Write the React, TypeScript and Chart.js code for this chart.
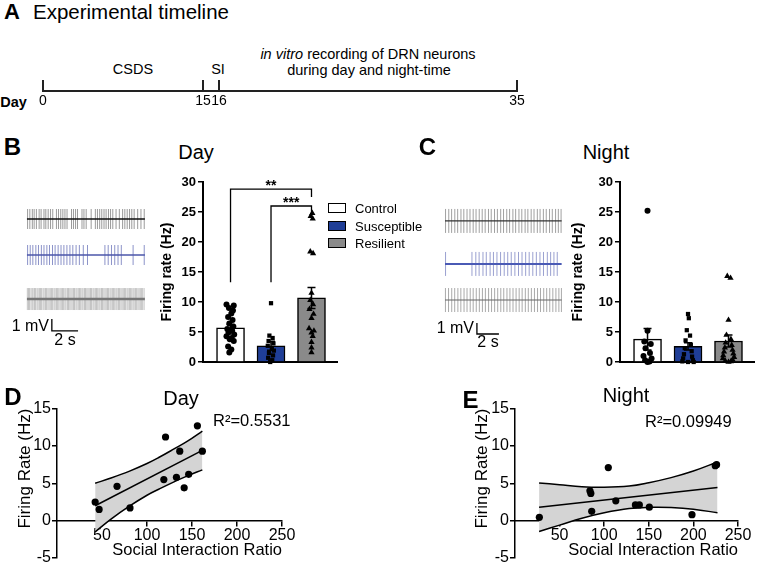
import React, { useEffect, useRef } from 'react';
import { Chart, registerables, LinearScale } from 'chart.js';
Chart.register(...registerables);

const FONT = '"Liberation Sans", Arial, Helvetica, sans-serif';
Chart.defaults.font.family = FONT;
Chart.defaults.color = '#000';

// ---------------- DATA ----------------
// Panel A timeline (days)
const timelineDays = [0, 15, 16, 35];

// Panel B/C groups
const groups = ['Control', 'Susceptible', 'Resilient'];
const groupColors = ['#ffffff', '#1f3e97', '#8a8a8a'];

// Day firing rates (Hz)
const dayMeans = [5.68, 2.7, 10.68];
const daySems = [0.55, 0.75, 1.75];
const dayControl = [9.6, 9.4, 9.0, 8.6, 8.1, 7.5, 7.0, 6.4, 5.9, 5.5, 5.2, 4.9, 4.6, 4.3, 4.0, 3.8, 3.5, 2.6, 2.1, 1.6];
const daySusceptible = [9.8, 4.4, 4.0, 3.5, 3.1, 2.7, 2.3, 1.9, 1.5, 1.1, 0.7, 0.3, 0.0];
const dayResilient = [24.8, 24.3, 23.9, 18.4, 18.1, 11.5, 10.3, 9.6, 8.8, 8.0, 7.3, 5.6, 5.2, 4.9, 4.3, 3.3, 2.4, 1.6];
const dayControlJitter = [-0.1, 0.08, -0.04, 0.06, 0.02, -0.06, 0.05, -0.03, 0.07, -0.08, 0.04, -0.05, 0.09, -0.1, 0.03, -0.02, 0.08, -0.06, 0.02, -0.03];
const daySusceptibleJitter = [0, -0.04, 0.04, -0.06, 0.06, -0.08, 0.02, 0.07, -0.05, 0.05, -0.07, 0.03, -0.02];
const dayResilientJitter = [0.02, -0.02, 0.03, -0.03, 0.04, 0, -0.03, 0.04, -0.05, 0.05, 0, -0.06, 0.06, 0, 0.03, 0, 0, 0];
const daySignificance = [
  { from: 1, to: 3, top: 28.8, leftEnd: 13.3, rightEnd: 27.5, label: '**' },
  { from: 2, to: 3, top: 26.0, leftEnd: 13.3, rightEnd: 24.8, label: '***' },
];

// Night firing rates (Hz)
const nightMeans = [3.8, 2.6, 3.5];
const nightSems = [1.8, 0.6, 1.0];
const nightControl = [25.2, 5.2, 3.4, 3.0, 2.3, 1.5, 1.0, 0.6, 0.3, 0.1, 0.0];
const nightSusceptible = [8.0, 7.3, 5.3, 4.4, 3.6, 2.9, 2.3, 1.8, 1.3, 0.9, 0.6, 0.3, 0.1, 0.0, 0.0];
const nightResilient = [14.3, 14.0, 7.0, 4.5, 3.8, 3.2, 2.8, 2.4, 2.0, 1.7, 1.4, 1.1, 0.8, 0.6, 0.4, 0.2, 0.1, 0.0];
const nightControlJitter = [0, 0, -0.08, 0.08, -0.05, 0.06, -0.1, 0.1, -0.06, 0.05, 0];
const nightSusceptibleJitter = [0, 0.02, -0.03, 0.05, -0.06, 0.07, -0.08, 0.09, -0.1, 0.1, -0.12, 0.12, -0.14, 0.14, 0];
const nightResilientJitter = [-0.03, 0.05, 0, -0.05, 0.06, -0.07, 0.08, -0.09, 0.1, -0.11, 0.12, -0.13, 0.14, -0.14, 0.1, -0.08, 0.06, 0];

// Example traces: spike times (s)
const dayTraceDuration = 9.0;
const dayControlSpikes = [0.05, 0.22, 0.41, 0.55, 0.72, 0.93, 1.08, 1.3, 1.44, 1.62, 1.8, 1.97, 2.25, 2.41, 2.58, 2.74, 2.9, 3.06, 3.4, 3.55, 3.71, 3.86, 4.2, 4.35, 4.52, 4.9, 5.22, 5.38, 5.55, 5.71, 5.88, 6.04, 6.22, 6.38, 6.55, 6.8, 7.05, 7.3, 7.47, 7.65, 7.83, 8.0, 8.18, 8.45, 8.7, 8.95];
const daySusceptibleSpikes = [0.05, 0.25, 0.45, 0.68, 0.88, 1.1, 1.3, 1.52, 1.72, 1.95, 2.15, 2.38, 2.6, 2.82, 3.05, 3.28, 3.5, 3.75, 4.0, 4.3, 4.62, 5.95, 6.2, 6.45, 6.7, 6.95, 7.2, 8.1, 8.95];
const dayResilientSpikes = [0.03, 0.12, 0.2, 0.31, 0.4, 0.47, 0.58, 0.66, 0.77, 0.85, 0.95, 1.04, 1.12, 1.23, 1.31, 1.42, 1.5, 1.6, 1.69, 1.78, 1.88, 1.96, 2.07, 2.15, 2.26, 2.34, 2.43, 2.53, 2.62, 2.71, 2.8, 2.9, 2.98, 3.09, 3.17, 3.27, 3.36, 3.45, 3.55, 3.63, 3.74, 3.82, 3.92, 4.01, 4.1, 4.2, 4.28, 4.39, 4.47, 4.57, 4.66, 4.75, 4.85, 4.93, 5.04, 5.12, 5.22, 5.31, 5.4, 5.5, 5.58, 5.69, 5.77, 5.87, 5.96, 6.05, 6.15, 6.23, 6.34, 6.42, 6.52, 6.61, 6.7, 6.8, 6.88, 6.99, 7.07, 7.17, 7.26, 7.35, 7.45, 7.53, 7.64, 7.72, 7.82, 7.91, 8.0, 8.1, 8.18, 8.29, 8.37, 8.47, 8.56, 8.65, 8.75, 8.83, 8.94];
const nightTraceDuration = 10.6;
const nightControlSpikes = [0.05, 0.34, 0.6, 0.89, 1.15, 1.45, 1.71, 2.0, 2.27, 2.56, 2.82, 3.11, 3.38, 3.65, 3.95, 4.2, 4.5, 4.76, 5.06, 5.32, 5.61, 5.87, 6.17, 6.42, 6.72, 6.98, 7.28, 7.53, 7.83, 8.09, 8.39, 8.64, 8.94, 9.2, 9.5, 9.75, 10.05, 10.3, 10.55];
const nightSusceptibleSpikes = [0.05, 2.45, 2.8, 3.1, 3.45, 3.75, 4.1, 4.4, 4.72, 5.05, 5.38, 5.7, 6.02, 6.35, 6.68, 7.0, 7.33, 7.65, 7.98, 8.3, 8.63, 8.95, 9.3, 9.6, 9.9, 10.2];
const nightResilientSpikes = [0.04, 0.32, 0.61, 0.88, 1.17, 1.44, 1.73, 2.0, 2.29, 2.56, 2.84, 3.12, 3.4, 3.67, 3.96, 4.23, 4.51, 4.79, 5.07, 5.34, 5.63, 5.9, 6.18, 6.46, 6.74, 7.01, 7.3, 7.57, 7.85, 8.13, 8.41, 8.68, 8.97, 9.24, 9.52, 9.8, 10.08, 10.35, 10.58];

// Panel D (Day) correlation
const dayRatio = [42.4, 46.8, 66.7, 81.1, 118.7, 120.6, 132.7, 136.4, 141.3, 146.3, 156, 161.5];
const dayRate = [2.5, 1.5, 4.6, 1.7, 5.5, 11.2, 5.8, 9.3, 4.4, 6.2, 12.7, 9.3];
const dayFitX = [42.4, 161.5];
const dayFitY = [2.0, 9.4];
const dayBandX = [42.4, 60, 80, 100, 113, 130, 145, 161.5];
const dayBandUpper = [5.0, 5.7, 6.6, 7.65, 8.45, 9.6, 10.65, 12.0];
const dayBandLower = [-1.5, 0.2, 1.9, 3.4, 4.2, 5.2, 6.0, 6.8];
const dayR2 = 'R²=0.5531';

// Panel E (Night) correlation
const nightRatio = [27.3, 84, 85, 86, 104.6, 113, 135, 139.4, 150.6, 198.4, 224.5, 226];
const nightRate = [0.45, 4.0, 3.65, 1.25, 7.1, 2.65, 2.1, 2.1, 1.8, 0.8, 7.35, 7.5];
const nightFitX = [27, 227];
const nightFitY = [1.8, 4.45];
const nightBandX = [27, 50, 75, 100, 128, 150, 175, 200, 227];
const nightBandUpper = [5.05, 4.8, 4.53, 4.46, 4.63, 5.08, 5.76, 6.64, 7.85];
const nightBandLower = [-1.45, -0.6, 0.33, 1.06, 1.63, 1.78, 1.76, 1.54, 1.05];
const nightR2 = 'R²=0.09949';

// ---------------- SCHEMATIC TIMELINE SCALE ----------------
// The timeline in panel A is schematic (not to scale): piecewise-linear axis.
const TIMELINE_BREAKS = [0, 15, 16, 35];
const TIMELINE_FRACTIONS = [0, 0.3376, 0.3713, 1];
class TimelineScale extends (LinearScale as any) {
  getPixelForValue(value: number) {
    let f = 0;
    for (let i = 0; i < TIMELINE_BREAKS.length - 1; i++) {
      const a = TIMELINE_BREAKS[i], b = TIMELINE_BREAKS[i + 1];
      if (value >= a && value <= b) {
        f = TIMELINE_FRACTIONS[i] + (TIMELINE_FRACTIONS[i + 1] - TIMELINE_FRACTIONS[i]) * (value - a) / (b - a);
        break;
      }
    }
    return (this as any).getPixelForDecimal(f);
  }
}
(TimelineScale as any).id = 'timeline';
(TimelineScale as any).defaults = (LinearScale as any).defaults;
Chart.register(TimelineScale as any);

// ---------------- HELPERS ----------------
const base = (extra: any = {}) => ({
  animation: false,
  responsive: false,
  maintainAspectRatio: false,
  events: [],
  plugins: { legend: { display: false }, tooltip: { enabled: false }, title: { display: false } },
  ...extra,
  layout: { autoPadding: false, ...(extra.layout || {}) },
});

function ChartBox({ left, top, width, height, make }: any) {
  const ref = useRef<HTMLCanvasElement>(null);
  useEffect(() => {
    const chart = new Chart(ref.current as HTMLCanvasElement, make());
    return () => chart.destroy();
  }, []);
  return (
    <canvas ref={ref} width={width} height={height}
      style={{ position: 'absolute', left, top, width, height, display: 'block' }} />
  );
}

function Txt({ x, y, s, b = false, i = false, a = 'c', children }: any) {
  const tx = a === 'c' ? '-50%' : a === 'r' ? '-100%' : '0';
  return (
    <div style={{
      position: 'absolute', left: x, top: y, transform: `translate(${tx},-50%)`,
      fontSize: s, fontWeight: b ? 'bold' : 'normal', fontStyle: i ? 'italic' : 'normal',
      lineHeight: 1, whiteSpace: 'nowrap',
    }}>{children}</div>
  );
}

// ---------------- CONFIGS ----------------
function timelineConfig() {
  return {
    type: 'scatter',
    data: { datasets: [{ data: timelineDays.map((d) => ({ x: d, y: 0 })), pointRadius: 0 }] },
    options: base({
      layout: { padding: { left: 43, right: 241, top: 8, bottom: 0 } },
      scales: {
        x: {
          type: 'timeline', min: 0, max: 35,
          afterBuildTicks: (s: any) => { s.ticks = timelineDays.map((v) => ({ value: v })); },
          grid: { drawOnChartArea: true, drawTicks: false, color: '#222', lineWidth: 2 },
          border: { display: true, color: '#222', width: 2 },
          ticks: { autoSkip: false, maxRotation: 0, font: { size: 14 }, color: '#000', padding: 2 },
          afterFit: (s: any) => { s.height = 22; },
        },
        y: { display: false, min: 0, max: 1 },
      },
    }),
  };
}

function traceConfig(rows: any[], xmin: number, xmax: number, ymin: number, ymax: number, bar: any) {
  const datasets: any[] = [];
  rows.forEach((r) => {
    datasets.push({
      data: r.spikes.map((t: number) => ({ x: t, y: r.y })),
      pointStyle: 'line', rotation: 90, pointRadius: r.amp,
      borderColor: r.spikeColor, pointBorderColor: r.spikeColor, pointBorderWidth: 1,
      showLine: false, clip: false, order: 2,
    });
    datasets.push({
      data: [{ x: 0, y: r.y }, { x: r.dur, y: r.y }],
      showLine: true, pointRadius: 0, borderColor: r.lineColor, borderWidth: r.lw, clip: false, order: 1,
    });
  });
  const scaleBar = {
    id: 'scaleBar',
    afterDatasetsDraw(chart: any) {
      const { ctx, scales: { x, y } } = chart;
      const x0 = x.getPixelForValue(bar.x), x1 = x.getPixelForValue(bar.x + bar.dx);
      const y0 = y.getPixelForValue(bar.y), y1 = y.getPixelForValue(bar.y + bar.dy);
      ctx.save();
      ctx.strokeStyle = '#000';
      ctx.lineWidth = 1.3;
      ctx.beginPath();
      ctx.moveTo(x0, y1); ctx.lineTo(x0, y0); ctx.lineTo(x1, y0);
      ctx.stroke();
      ctx.restore();
    },
  };
  return {
    type: 'scatter',
    data: { datasets },
    options: base({
      layout: { padding: 0 },
      scales: {
        x: { type: 'linear', display: false, min: xmin, max: xmax },
        y: { type: 'linear', display: false, min: ymin, max: ymax },
      },
    }),
    plugins: [scaleBar],
  };
}

function barConfig(means: number[], sems: number[], pts: number[][], jit: number[][], yWidth: number, pad: any, sig: any[]) {
  const styles = ['circle', 'rect', 'triangle'];
  const radii = [3, 3, 3.6];
  const extras = {
    id: 'barExtras',
    afterDatasetsDraw(chart: any) {
      const { ctx, scales: { x, y } } = chart;
      ctx.save();
      ctx.strokeStyle = '#000';
      ctx.fillStyle = '#000';
      ctx.lineWidth = 1.5;
      means.forEach((m, i) => {
        const px = x.getPixelForValue(i + 1);
        const t = y.getPixelForValue(m + sems[i]);
        const b = y.getPixelForValue(Math.max(0, m - sems[i]));
        ctx.beginPath();
        ctx.moveTo(px, t); ctx.lineTo(px, b);
        ctx.moveTo(px - 4, t); ctx.lineTo(px + 4, t);
        ctx.moveTo(px - 4, b); ctx.lineTo(px + 4, b);
        ctx.stroke();
      });
      ctx.lineWidth = 1.3;
      ctx.font = `bold 14px ${FONT}`;
      ctx.textAlign = 'center';
      ctx.textBaseline = 'alphabetic';
      sig.forEach((s) => {
        const xl = x.getPixelForValue(s.from), xr = x.getPixelForValue(s.to);
        const yt = y.getPixelForValue(s.top);
        ctx.beginPath();
        ctx.moveTo(xl, y.getPixelForValue(s.leftEnd));
        ctx.lineTo(xl, yt); ctx.lineTo(xr, yt);
        ctx.lineTo(xr, y.getPixelForValue(s.rightEnd));
        ctx.stroke();
        ctx.fillText(s.label, (xl + xr) / 2, yt + 1);
      });
      ctx.restore();
    },
  };
  return {
    type: 'scatter',
    data: {
      datasets: [
        {
          type: 'bar', data: means.map((m, i) => ({ x: i + 1, y: m })),
          backgroundColor: groupColors, borderColor: '#000', borderWidth: 1.5, barThickness: 28, order: 3,
        },
        ...pts.map((vals, g) => ({
          type: 'scatter', label: groups[g],
          data: vals.map((v, k) => ({ x: g + 1 + jit[g][k], y: v })),
          pointStyle: styles[g], pointRadius: radii[g], backgroundColor: '#000', borderColor: '#000',
          borderWidth: 0, clip: false, order: 1,
        })),
      ],
    },
    options: base({
      layout: { padding: pad },
      scales: {
        x: {
          type: 'linear', min: 0.32, max: 3.63, offset: false,
          grid: { display: false, offset: false },
          ticks: { display: false },
          border: { display: true, color: '#000', width: 2 },
          afterFit: (s: any) => { s.height = 0; },
        },
        y: {
          type: 'linear', min: 0, max: 30,
          ticks: { stepSize: 5, font: { size: 13, weight: 'bold' }, color: '#000', padding: 2 },
          grid: { drawOnChartArea: false, drawTicks: true, tickLength: 5, color: '#000', lineWidth: 1.5 },
          border: { color: '#000', width: 2 },
          title: { display: true, text: 'Firing rate (Hz)', font: { size: 14, weight: 'bold' }, color: '#000', padding: { top: 0, bottom: 0 } },
          afterFit: (s: any) => { s.width = yWidth; },
        },
      },
    }),
    plugins: [extras],
  };
}

function regConfig(xs: number[], ys: number[], fitX: number[], fitY: number[], bx: number[], up: number[], lo: number[], yWidth: number, pad: any, yTitlePad: number) {
  return {
    type: 'scatter',
    data: {
      datasets: [
        { data: xs.map((x, i) => ({ x, y: ys[i] })), pointRadius: 3.6, backgroundColor: '#000', borderColor: '#000', borderWidth: 0, clip: false, order: 0 },
        { data: fitX.map((x, i) => ({ x, y: fitY[i] })), showLine: true, pointRadius: 0, borderColor: '#000', borderWidth: 1.5, order: 1 },
        { data: bx.map((x, i) => ({ x, y: up[i] })), showLine: true, pointRadius: 0, borderColor: '#000', borderWidth: 1.5, tension: 0.4, fill: '+1', backgroundColor: '#d4d4d4', order: 2 },
        { data: bx.map((x, i) => ({ x, y: lo[i] })), showLine: true, pointRadius: 0, borderColor: '#000', borderWidth: 1.5, tension: 0.4, order: 1 },
      ],
    },
    options: base({
      layout: { padding: pad },
      scales: {
        x: {
          type: 'linear', min: 0, max: 250, position: { y: 0 },
          afterBuildTicks: (s: any) => { s.ticks = s.ticks.filter((t: any) => t.value !== 0); },
          ticks: { stepSize: 50, font: { size: 16 }, color: '#000', padding: 0, maxRotation: 0, autoSkip: false },
          grid: { drawOnChartArea: false, tickLength: 5, color: '#000', lineWidth: 1.5 },
          border: { color: '#000', width: 1.5 },
          title: { display: true, text: 'Social Interaction Ratio', font: { size: 16.5 }, color: '#000', align: 'end', padding: { top: -4, bottom: 0 } },
        },
        y: {
          type: 'linear', min: -5, max: 15,
          ticks: { stepSize: 5, font: { size: 16 }, color: '#000', padding: 1 },
          grid: { drawOnChartArea: false, tickLength: 5, color: '#000', lineWidth: 1.5 },
          border: { color: '#000', width: 1.5 },
          title: { display: true, text: 'Firing Rate (Hz)', font: { size: 17 }, color: '#000', align: 'end', padding: { top: yTitlePad, bottom: 0 } },
          afterFit: (s: any) => { s.width = yWidth; },
        },
      },
    }),
  };
}

// ---------------- APP ----------------
export default function App() {
  const legend = groups.map((g, i) => (
    <React.Fragment key={g}>
      <div style={{ position: 'absolute', left: 328, top: 203 + i * 17.5, width: 16, height: 8, background: groupColors[i], border: '1.5px solid #000' }} />
      <Txt x={355} y={208 + i * 17.5} s={13} a="l">{g}</Txt>
    </React.Fragment>
  ));
  return (
    <div style={{ position: 'fixed', left: 0, top: 0, width: 758, height: 564, overflow: 'hidden', background: '#fff', fontFamily: FONT, color: '#000' }}>
      {/* Panel A */}
      <Txt x={12} y={12} s={22} b>A</Txt>
      <Txt x={33} y={12} s={20.5} a="l">Experimental timeline</Txt>
      <Txt x={133} y={68.5} s={14.5}>CSDS</Txt>
      <Txt x={218} y={68.5} s={14.5}>SI</Txt>
      <Txt x={368} y={54} s={14.5}><i>in vitro</i> recording of DRN neurons</Txt>
      <Txt x={369} y={70} s={14.5}>during day and night-time</Txt>
      <Txt x={13.5} y={102} s={14.5} b>Day</Txt>
      <ChartBox left={0} top={72} width={758} height={41} make={timelineConfig} />

      {/* Panel B */}
      <Txt x={12.5} y={146.5} s={24} b>B</Txt>
      <Txt x={196} y={152} s={20}>Day</Txt>
      <ChartBox left={20} top={195} width={130} height={150} make={() => traceConfig([
        { spikes: dayControlSpikes, dur: dayTraceDuration, y: -2.0, amp: 10, spikeColor: '#9a9a9a', lineColor: '#111', lw: 1.5 },
        { spikes: daySusceptibleSpikes, dur: dayTraceDuration, y: -5.0, amp: 10, spikeColor: '#8c93c9', lineColor: '#4b56aa', lw: 1.3 },
        { spikes: dayResilientSpikes, dur: dayTraceDuration, y: -8.67, amp: 11, spikeColor: '#c4c4c4', lineColor: '#777', lw: 2.5 },
      ], -0.53, 9.39, -12.5, 0, { x: 1.9, y: -11.33, dx: 2, dy: 1 })} />
      <Txt x={49} y={326} s={16} a="r">1 mV</Txt>
      <Txt x={65} y={340} s={16}>2 s</Txt>
      <ChartBox left={159} top={165} width={183} height={207} make={() => barConfig(
        dayMeans, daySems, [dayControl, daySusceptible, dayResilient],
        [dayControlJitter, daySusceptibleJitter, dayResilientJitter], 44,
        { left: 0, top: 17, right: 5, bottom: 10 }, daySignificance)} />
      {legend}

      {/* Panel C */}
      <Txt x={427.5} y={146.5} s={24} b>C</Txt>
      <Txt x={606} y={152} s={20}>Night</Txt>
      <ChartBox left={435} top={195} width={135} height={150} make={() => traceConfig([
        { spikes: nightControlSpikes, dur: nightTraceDuration, y: -2.36, amp: 12, spikeColor: '#a0a0a0', lineColor: '#333', lw: 1.2 },
        { spikes: nightSusceptibleSpikes, dur: nightTraceDuration, y: -6.27, amp: 12, spikeColor: '#9aa0d0', lineColor: '#4a5ab5', lw: 2 },
        { spikes: nightResilientSpikes, dur: nightTraceDuration, y: -9.55, amp: 12, spikeColor: '#aaaaaa', lineColor: '#666', lw: 1.2 },
      ], -0.91, 11.36, -13.64, 0, { x: 2.9, y: -12.64, dx: 2, dy: 1 })} />
      <Txt x={474} y={328} s={16} a="r">1 mV</Txt>
      <Txt x={488} y={342} s={16}>2 s</Txt>
      <ChartBox left={570} top={165} width={188} height={207} make={() => barConfig(
        nightMeans, nightSems, [nightControl, nightSusceptible, nightResilient],
        [nightControlJitter, nightSusceptibleJitter, nightResilientJitter], 50,
        { left: 0, top: 17, right: 4, bottom: 10 }, [])} />

      {/* Panel D */}
      <ChartBox left={0} top={398} width={300} height={172} make={() => regConfig(
        dayRatio, dayRate, dayFitX, dayFitY, dayBandX, dayBandUpper, dayBandLower, 57,
        { left: 0, top: 10, right: 18, bottom: 12 }, 15)} />
      <Txt x={13} y={396.5} s={24} b>D</Txt>
      <Txt x={181} y={398} s={20}>Day</Txt>
      <Txt x={213} y={420} s={16.5} a="l">{dayR2}</Txt>

      {/* Panel E */}
      <ChartBox left={460} top={398} width={298} height={172} make={() => regConfig(
        nightRatio, nightRate, nightFitX, nightFitY, nightBandX, nightBandUpper, nightBandLower, 55,
        { left: 0, top: 10, right: 20, bottom: 12 }, 12)} />
      <Txt x={470.5} y={400} s={24} b>E</Txt>
      <Txt x={626} y={395} s={20}>Night</Txt>
      <Txt x={645} y={421} s={16.5} a="l">{nightR2}</Txt>
    </div>
  );
}
